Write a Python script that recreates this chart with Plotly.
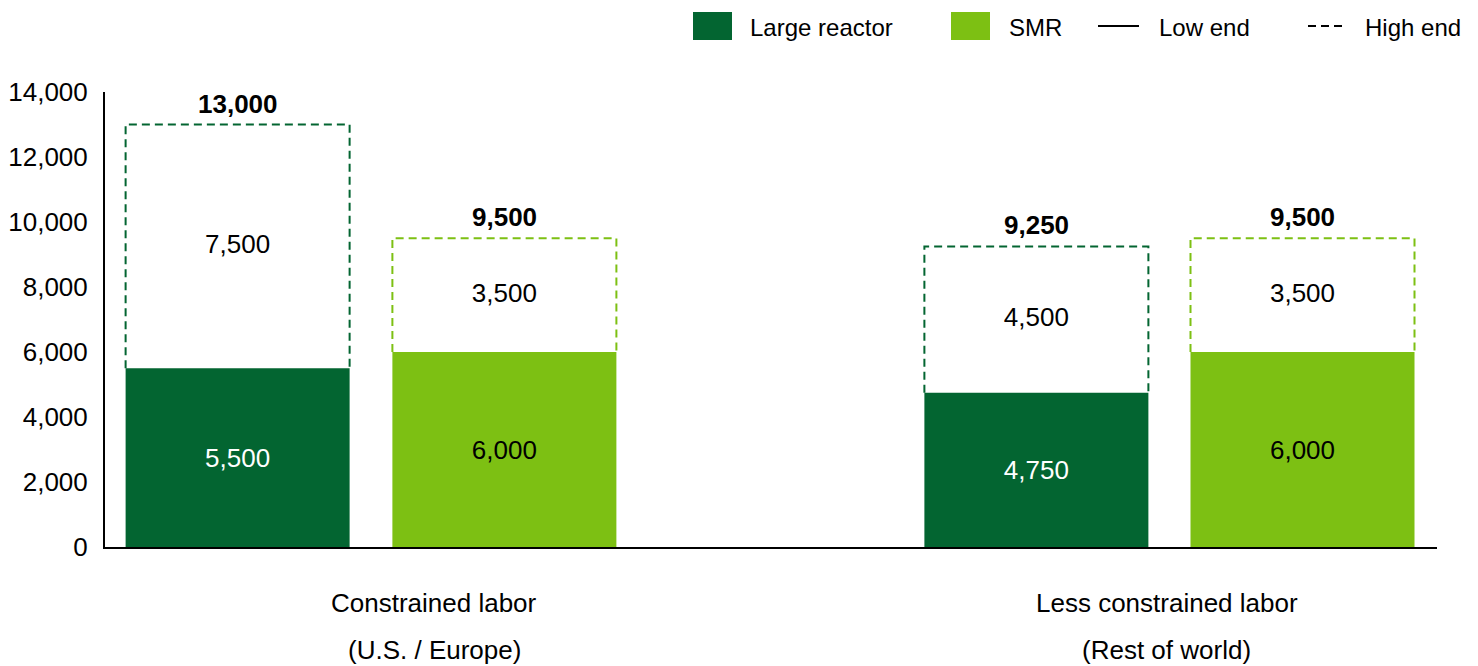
import plotly.graph_objects as go

# ---------------- data ----------------
group_labels = ["Constrained labor", "Less constrained labor"]
group_sublabels = ["(U.S. / Europe)", "(Rest of world)"]
bar_types = ["Large reactor", "SMR", "Large reactor", "SMR"]
low_end = [5500, 6000, 4750, 6000]
high_end = [13000, 9500, 9250, 9500]
y_ticks = [0, 2000, 4000, 6000, 8000, 10000, 12000, 14000]
legend_items = ["Large reactor", "SMR", "Low end", "High end"]

# ---------------- layout constants ----------------
PAGE_OFF = 8                      # default body margin of the html page
W, H = 1478 - PAGE_OFF, 666 - PAGE_OFF
ML, MR, MT, MB = 105 - PAGE_OFF, 41, 92 - PAGE_OFF, 119
PW, PH = W - ML - MR, H - MT - MB
BAR_W = 1.0
bar_pos = [0.592, 1.783, 4.158, 5.346]
group_pos = [1.469, 4.741]
X_RANGE = [0, PW / 224.0]
COLORS = {"Large reactor": "#036531", "SMR": "#7DC013"}
TEXT_IN = {"Large reactor": "white", "SMR": "black"}
FONT = "Arial, 'Liberation Sans', sans-serif"

increment = [h - l for l, h in zip(low_end, high_end)]

fig = go.Figure()

# solid low-end bars
for t in ["Large reactor", "SMR"]:
    idx = [i for i, bt in enumerate(bar_types) if bt == t]
    fig.add_trace(go.Bar(
        x=[bar_pos[i] for i in idx],
        y=[low_end[i] for i in idx],
        width=BAR_W,
        name=t,
        marker=dict(color=COLORS[t], line=dict(width=0)),
        text=[f"{low_end[i]:,}" for i in idx],
        textposition="inside",
        insidetextanchor="middle",
        textangle=0,
        textfont=dict(family=FONT, size=26, color=TEXT_IN[t]),
        showlegend=False,
        hoverinfo="skip",
    ))

# dashed high-end outlines
for i, t in enumerate(bar_types):
    c = bar_pos[i]
    fig.add_trace(go.Scatter(
        x=[c - BAR_W / 2, c - BAR_W / 2, c + BAR_W / 2, c + BAR_W / 2],
        y=[low_end[i], high_end[i], high_end[i], low_end[i]],
        mode="lines",
        line=dict(color=COLORS[t], width=2, dash="8px,5px"),
        showlegend=False,
        hoverinfo="skip",
    ))

# increment labels in the dashed boxes
fig.add_trace(go.Scatter(
    x=bar_pos,
    y=[(l + h) / 2 for l, h in zip(low_end, high_end)],
    mode="text",
    text=[f"{v:,}" for v in increment],
    textposition="middle center",
    textfont=dict(family=FONT, size=26, color="black"),
    showlegend=False,
    hoverinfo="skip",
))

annotations = []
# totals on top
for i in range(len(bar_types)):
    annotations.append(dict(
        x=bar_pos[i], y=high_end[i], xref="x", yref="y",
        text=f"<b>{high_end[i]:,}</b>", showarrow=False,
        yanchor="middle", yshift=21,
        font=dict(family=FONT, size=26, color="black"),
    ))

# group labels
for gx, g1, g2 in zip(group_pos, group_labels, group_sublabels):
    annotations.append(dict(
        x=gx, y=0, xref="x", yref="paper", text=g1, showarrow=False,
        yanchor="middle", yshift=-56,
        font=dict(family=FONT, size=26, color="black"),
    ))
    annotations.append(dict(
        x=gx, y=0, xref="x", yref="paper", text=g2, showarrow=False,
        yanchor="middle", yshift=-103,
        font=dict(family=FONT, size=26, color="black"),
    ))


# custom legend (screen pixel layout -> paper coords)
def px_x(p):
    return (p - PAGE_OFF - ML) / PW


def px_y(p):
    return (PAGE_OFF + H - MB - p) / PH


shapes = []
leg_y = 26
shapes.append(dict(type="rect", xref="paper", yref="paper",
                   x0=px_x(693), x1=px_x(732), y0=px_y(40), y1=px_y(12),
                   fillcolor=COLORS["Large reactor"], line=dict(width=0)))
shapes.append(dict(type="rect", xref="paper", yref="paper",
                   x0=px_x(951), x1=px_x(990), y0=px_y(40), y1=px_y(12),
                   fillcolor=COLORS["SMR"], line=dict(width=0)))
shapes.append(dict(type="line", xref="paper", yref="paper",
                   x0=px_x(1098), x1=px_x(1139), y0=px_y(leg_y), y1=px_y(leg_y),
                   line=dict(color="black", width=2)))
shapes.append(dict(type="line", xref="paper", yref="paper",
                   x0=px_x(1308), x1=px_x(1343), y0=px_y(leg_y), y1=px_y(leg_y),
                   line=dict(color="black", width=2, dash="8px,5px")))
for txt, px in zip(legend_items, [748, 1007, 1157, 1363]):
    annotations.append(dict(
        x=px_x(px), y=px_y(leg_y + 1), xref="paper", yref="paper",
        text=txt, showarrow=False, xanchor="left", yanchor="middle",
        font=dict(family=FONT, size=24, color="black"),
    ))

fig.update_layout(
    width=W, height=H,
    margin=dict(l=ML, r=MR, t=MT, b=MB, pad=0, autoexpand=False),
    plot_bgcolor="white", paper_bgcolor="white",
    barmode="overlay",
    showlegend=False,
    annotations=annotations,
    shapes=shapes,
    font=dict(family=FONT, size=26, color="black"),
    xaxis=dict(range=X_RANGE, showgrid=False, zeroline=False,
               showticklabels=False, ticks="", automargin=False,
               showline=True, linecolor="black", linewidth=2),
    yaxis=dict(range=[0, 14000], tickvals=y_ticks, tickformat=",",
               showgrid=False, zeroline=False, ticks="", automargin=False,
               showline=True, linecolor="black", linewidth=2,
               ticklabelstandoff=10,
               tickfont=dict(family=FONT, size=26, color="black")),
)

fig.write_html("out.html")
